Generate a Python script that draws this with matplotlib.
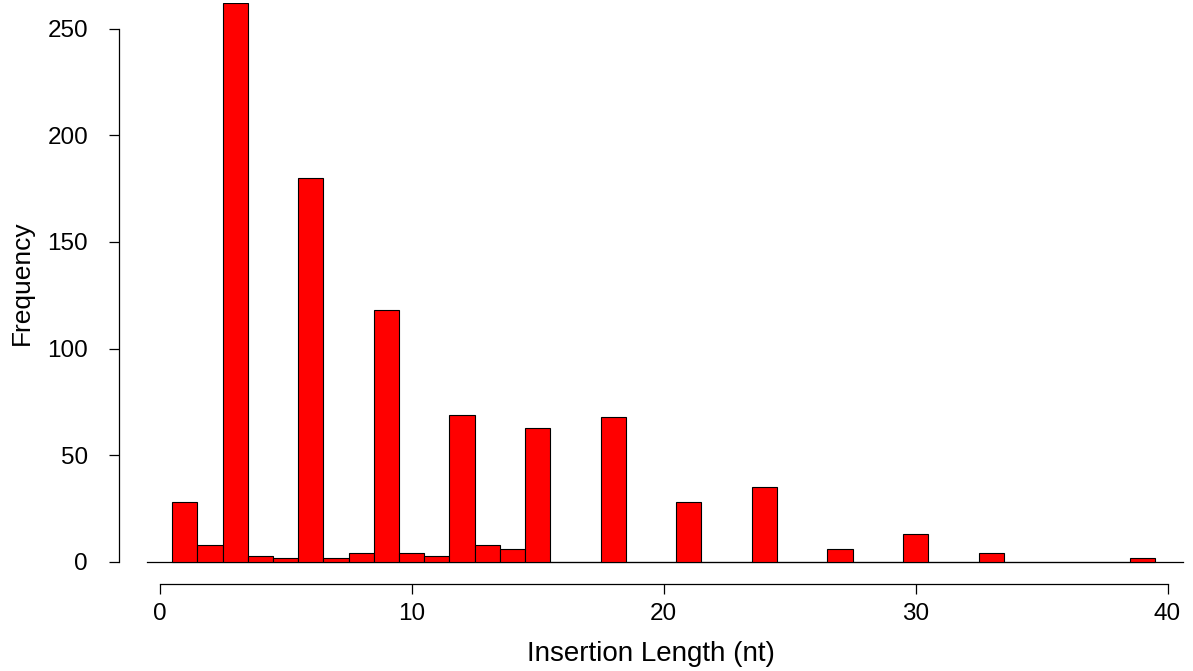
import matplotlib
matplotlib.use('Agg')
import matplotlib.pyplot as plt

plt.rcParams['font.family'] = ['Liberation Sans', 'DejaVu Sans']

# insertion length (nt) and how often each one was seen
lengths = list(range(1, 40))
counts = [28, 8, 262, 3, 2, 180, 2, 4, 118, 4, 3, 69, 8, 6, 63, 0, 0, 68, 0, 0,
          28, 0, 0, 35, 0, 0, 6, 0, 0, 13, 0, 0, 4, 0, 0, 0, 0, 0, 2]
x_ticks = [0, 10, 20, 30, 40]
y_ticks = [0, 50, 100, 150, 200, 250]

W, H = 1193, 671
fig = plt.figure(figsize=(W / 100, H / 100), dpi=100)
# x=0 -> 159.5px, 25.2 px per unit ; y=0 -> 562px, 2.135 px per unit
x0, sx = 159.5, 25.2
y0, sy = 562, 2.1335
xl, xr = -2, 41
yb, yt = -20, 262
left = x0 + sx * xl
right = x0 + sx * xr
bottom = y0 - sy * yb
top = y0 - sy * yt
ax = fig.add_axes([left / W, (H - bottom) / H, (right - left) / W, (bottom - top) / H])
ax.set_xlim(xl, xr)
ax.set_ylim(yb, yt)

ax.bar(lengths, counts, width=1.0, color='#ff0000', edgecolor='black', linewidth=0.8, zorder=3)
ax.plot([-0.5, 40.6], [0, 0], color='black', linewidth=0.9, zorder=2)

for s in ['top', 'right']:
    ax.spines[s].set_visible(False)
ax.spines['left'].set_position(('data', (119.3 - x0) / sx))
ax.spines['left'].set_bounds(0, 250)
ax.spines['bottom'].set_position(('data', (y0 - 584) / sy))
ax.spines['bottom'].set_bounds(0, 40)
for s in ['left', 'bottom']:
    ax.spines[s].set_linewidth(0.9)

ax.set_xticks(x_ticks)
ax.set_yticks(y_ticks)
ax.tick_params(axis='both', direction='out', length=7.5, width=0.9, labelsize=17.5)
ax.tick_params(axis='x', pad=6)
ax.tick_params(axis='y', pad=15)

ax.set_xlabel('Insertion Length (nt)', fontsize=20, labelpad=12)
ax.set_ylabel('Frequency', fontsize=19, labelpad=10)
# R centres the y label on the plot region, a bit above the axis middle
ax.yaxis.label.set_y((131 - yb) / (yt - yb))

fig.savefig('out.png', dpi=100)
